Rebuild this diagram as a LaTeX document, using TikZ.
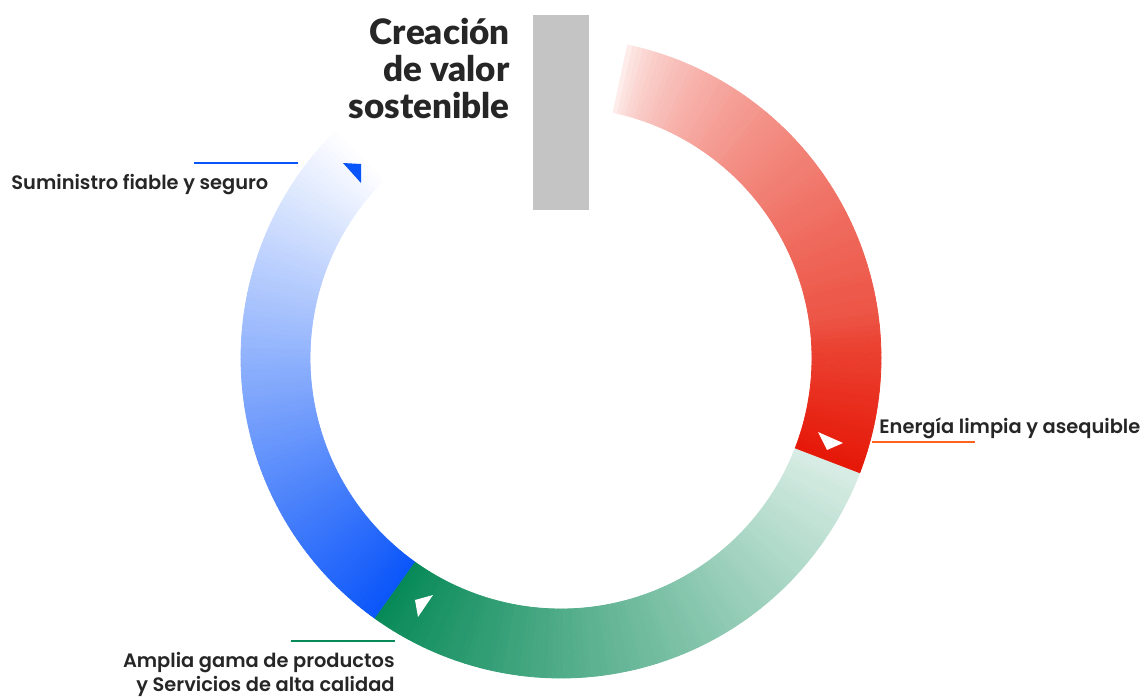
\documentclass[tikz,border=0pt]{standalone}
\usepackage{fontspec}
\setmainfont{Poppins}[BoldFont={Poppins SemiBold}]
\newfontfamily\titlefont{Lato Black}
\definecolor{redEnd}{RGB}{230,24,8}
\definecolor{coral}{RGB}{236,78,62}
\definecolor{blueEnd}{RGB}{10,85,250}
\definecolor{greenEnd}{RGB}{8,138,88}
\definecolor{orangeLine}{RGB}{255,100,30}
\definecolor{textGray}{RGB}{38,38,38}
\definecolor{barGray}{RGB}{196,196,196}
\tikzset{
    ringpart/.style={fill=#1, draw=#1, line width=0.4pt, line join=round},
    lbl/.style={inner sep=0, text=textGray, font=\fontsize{9.7}{12}\selectfont\bfseries},
    titulo/.style={inner sep=0, text=textGray, font=\fontsize{17.5}{18.5}\selectfont\titlefont},
    underline/.style={line width=0.6pt}
}
\begin{document}
\begin{tikzpicture}[x=0.5pt,y=0.5pt]
            \useasboundingbox (0,0) rectangle (1140,-698);
            \coordinate (c) at (561,-358);
            \foreach \i in {0,...,99} {
                \pgfmathsetmacro\angA{134+\i*1.005}
                \pgfmathsetmacro\angB{\angA+1.005}
                \pgfmathtruncatemacro\pct{\i}
                \draw[ringpart=blueEnd!\pct!white] ([shift={(c)}]\angA:251) arc[start angle=\angA, end angle=\angB, radius=251]
                    -- ([shift={(c)}]\angB:320) arc[start angle=\angB, end angle=\angA, radius=320] -- cycle;
            }
            \foreach \i in {0,...,104} {
                \pgfmathsetmacro\angA{234.5+\i}
                \pgfmathsetmacro\angB{\angA+1}
                \pgfmathtruncatemacro\pct{100-84*\i/104}
                \draw[ringpart=greenEnd!\pct!white] ([shift={(c)}]\angA:251) arc[start angle=\angA, end angle=\angB, radius=251]
                    -- ([shift={(c)}]\angB:320) arc[start angle=\angB, end angle=\angA, radius=320] -- cycle;
            }
            \foreach \i in {0,...,99} {
                \pgfmathsetmacro\angA{79-\i}
                \pgfmathsetmacro\angB{\angA-1}
                \pgfmathtruncatemacro\pct{min(100,100*sqrt(\i/75))}
                \pgfmathtruncatemacro\mix{max(0,100*(\i-70)/29)}
                \draw[ringpart=redEnd!\mix!coral!\pct!white] ([shift={(c)}]\angA:251) arc[start angle=\angA, end angle=\angB, radius=251]
                    -- ([shift={(c)}]\angB:320) arc[start angle=\angB, end angle=\angA, radius=320] -- cycle;
            }
            \fill[white] (818,-432) -- (843,-443) -- (827,-450) -- cycle;
            \fill[white] (415,-600) -- (433,-595) -- (418,-617) -- cycle;
            \fill[blueEnd] (343,-163) -- (361,-164) -- (361,-183) -- cycle;
            \fill[barGray] (533,-15) rectangle (589,-210);
            \node[titulo, anchor=north east, align=right] (creacion) at (510,-18) {Creación\\de valor\\sostenible};
            \node[lbl, anchor=base west] (suministro) at (11,-189) {Suministro fiable y seguro};
            \node[lbl, anchor=base west] (energia) at (879,-433) {Energía limpia y asequible};
            \node[lbl, anchor=north east, align=right] (amplia) at (395,-652) {Amplia gama de productos\\y Servicios de alta calidad};
            \coordinate (azulA) at (194,-163);
            \coordinate (azulB) at (298,-163);
            \coordinate (rojoA) at (872,-442);
            \coordinate (rojoB) at (975,-442);
            \coordinate (verdeA) at (291,-641);
            \coordinate (verdeB) at (395,-641);
            \draw[underline, blueEnd] (azulA) -- (azulB);
            \draw[underline, orangeLine] (rojoA) -- (rojoB);
            \draw[underline, greenEnd] (verdeA) -- (verdeB);
        \end{tikzpicture}
\end{document}
